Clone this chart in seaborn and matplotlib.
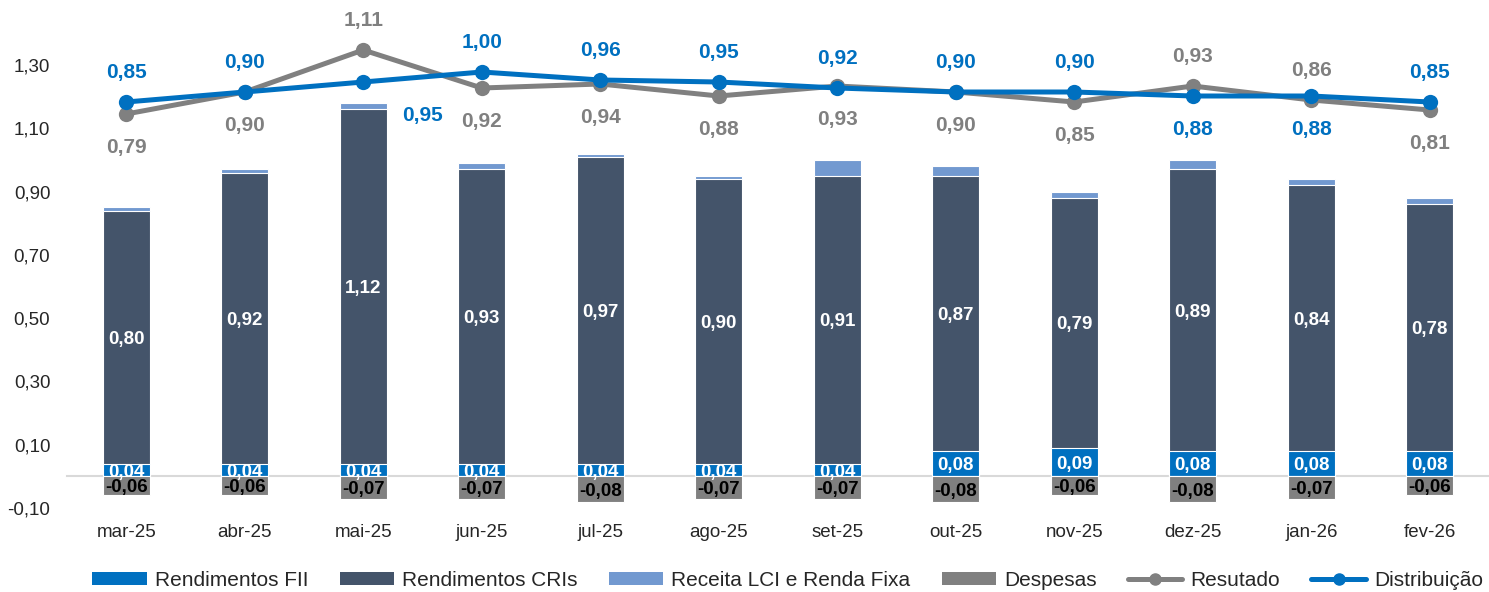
import numpy as np
import pandas as pd
import matplotlib
matplotlib.use("Agg")
import matplotlib.pyplot as plt
import seaborn as sns
from matplotlib.patches import Patch
from matplotlib.lines import Line2D

# ---- data -------------------------------------------------------------
meses = ["mar-25", "abr-25", "mai-25", "jun-25", "jul-25", "ago-25",
         "set-25", "out-25", "nov-25", "dez-25", "jan-26", "fev-26"]
rend_fii = [0.04, 0.04, 0.04, 0.04, 0.04, 0.04, 0.04, 0.08, 0.09, 0.08, 0.08, 0.08]
rend_cri = [0.80, 0.92, 1.12, 0.93, 0.97, 0.90, 0.91, 0.87, 0.79, 0.89, 0.84, 0.78]
receita_lci = [0.01, 0.01, 0.02, 0.02, 0.01, 0.01, 0.05, 0.03, 0.02, 0.03, 0.02, 0.02]
despesas = [-0.06, -0.06, -0.07, -0.07, -0.08, -0.07, -0.07, -0.08, -0.06, -0.08, -0.07, -0.06]
resultado = [0.79, 0.90, 1.11, 0.92, 0.94, 0.88, 0.93, 0.90, 0.85, 0.93, 0.86, 0.81]
distribuicao = [0.85, 0.90, 0.95, 1.00, 0.96, 0.95, 0.92, 0.90, 0.90, 0.88, 0.88, 0.85]
ytick_vals = [-0.10, 0.10, 0.30, 0.50, 0.70, 0.90, 1.10, 1.30]

# ---- style ------------------------------------------------------------
C_FII = "#0070C0"
C_CRI = "#44546A"
C_LCI = "#7299D0"
C_DESP = "#808080"
C_RES = "#808080"
C_DIST = "#0070C0"
C_TXT = "#262626"

sns.set_theme(style="white")
plt.rcParams["font.family"] = ["Liberation Sans", "DejaVu Sans"]


def fmt(v):
    return f"{v:.2f}".replace(".", ",")


df = pd.DataFrame({
    "mes": meses,
    "fii": rend_fii,
    "cri": rend_cri,
    "lci": receita_lci,
    "desp": despesas,
    "res": resultado,
    "dist": distribuicao,
})
df["fii_cri"] = df["fii"] + df["cri"]
df["total"] = df["fii_cri"] + df["lci"]
x = np.arange(len(df))

W, H = 1489, 592
fig = plt.figure(figsize=(W / 100, H / 100), dpi=100)
ax = fig.add_axes([67 / W, 1 - 508 / H, 1 - 67 / W, (508 - 1.8) / H])

bar_kw = dict(ax=ax, width=0.4, saturation=1, edgecolor="white", linewidth=0.8)
# stacked columns: draw cumulative heights from the top layer down
sns.barplot(data=df, x="mes", y="total", color=C_LCI, **bar_kw)
sns.barplot(data=df, x="mes", y="fii_cri", color=C_CRI, **bar_kw)
sns.barplot(data=df, x="mes", y="fii", color=C_FII, **bar_kw)
sns.barplot(data=df, x="mes", y="desp", color=C_DESP, **bar_kw)

lbl_kw = dict(ha="center", va="center_baseline", fontsize=13.5, fontweight="bold")
for i, r in df.iterrows():
    ax.text(i, r["fii"] + r["cri"] / 2, fmt(r["cri"]), color="white", **lbl_kw)
    ax.text(i, r["fii"] / 2, fmt(r["fii"]), color="white", **lbl_kw)
    ax.text(i, r["desp"] / 2, fmt(r["desp"]), color="black", **lbl_kw)

ax.set_xlim(-0.5, len(df) - 0.5)
ax.set_ylim(-0.10, 1.50)
ax.set_yticks(ytick_vals)
ax.set_yticklabels([fmt(v) for v in ytick_vals])
ax.set_xlabel("")
ax.set_ylabel("")
for s in ("top", "right", "left"):
    ax.spines[s].set_visible(False)
ax.spines["bottom"].set_position(("data", 0))
ax.spines["bottom"].set_color("#D9D9D9")
ax.spines["bottom"].set_linewidth(1.5)
ax.spines["bottom"].set_zorder(0.5)
ax.set_xticks(x)
ax.set_xticklabels(meses)
ax.set_xticks(np.arange(-0.5, len(df), 1), minor=True)
ax.tick_params(axis="x", which="major", length=0, pad=34, labelsize=13.5, labelcolor=C_TXT)
ax.tick_params(axis="x", which="minor", length=4, width=1.5, color="#D9D9D9", direction="out")
ax.tick_params(axis="y", length=0, pad=12, labelsize=13.5, labelcolor=C_TXT)
ax.grid(False)

# ---- lines on a hidden secondary scale --------------------------------
ax2 = ax.twinx()
line_kw = dict(ax=ax2, linewidth=3.6, marker="o", markersize=11, markeredgewidth=0)
sns.lineplot(x=x, y=df["res"].values, color=C_RES, **line_kw)
sns.lineplot(x=x, y=df["dist"].values, color=C_DIST, **line_kw)
ax2.set_ylim(-1.18, 1.351)
ax2.set_xlim(-0.5, len(df) - 0.5)
ax2.set_yticks([])
ax2.set_ylabel("")
for s in ax2.spines.values():
    s.set_visible(False)
ax2.grid(False)

dist_above = [True, True, False, True, True, True, True, True, True, False, False, True]
extra_dx = {2: 43}
for i in range(len(df)):
    up = dist_above[i]
    dy = 22.5
    ax2.annotate(fmt(df["dist"][i]), (i, df["dist"][i]),
                 xytext=(extra_dx.get(i, 0), dy if up else -dy), textcoords="offset points",
                 ha="center", va="center_baseline", fontsize=15, fontweight="bold", color=C_DIST)
    ax2.annotate(fmt(df["res"][i]), (i, df["res"][i]),
                 xytext=(0, -dy if up else dy), textcoords="offset points",
                 ha="center", va="center_baseline", fontsize=15, fontweight="bold", color=C_RES)

# ---- legend -----------------------------------------------------------
handles = [
    Patch(facecolor=C_FII, edgecolor="none"),
    Patch(facecolor=C_CRI, edgecolor="none"),
    Patch(facecolor=C_LCI, edgecolor="none"),
    Patch(facecolor=C_DESP, edgecolor="none"),
    Line2D([], [], color=C_RES, lw=3.6, marker="o", markersize=8),
    Line2D([], [], color=C_DIST, lw=3.6, marker="o", markersize=8),
]
labels = ["Rendimentos FII", "Rendimentos CRIs", "Receita LCI e Renda Fixa",
          "Despesas", "Resutado", "Distribuição"]
fig.legend(handles, labels, loc="center", bbox_to_anchor=(0.529, 0.02), ncol=6,
           frameon=False, fontsize=15, handlelength=2.6, handleheight=0.55,
           handletextpad=0.4, columnspacing=1.5, labelcolor=C_TXT)

fig.savefig("out.png", dpi=100)
